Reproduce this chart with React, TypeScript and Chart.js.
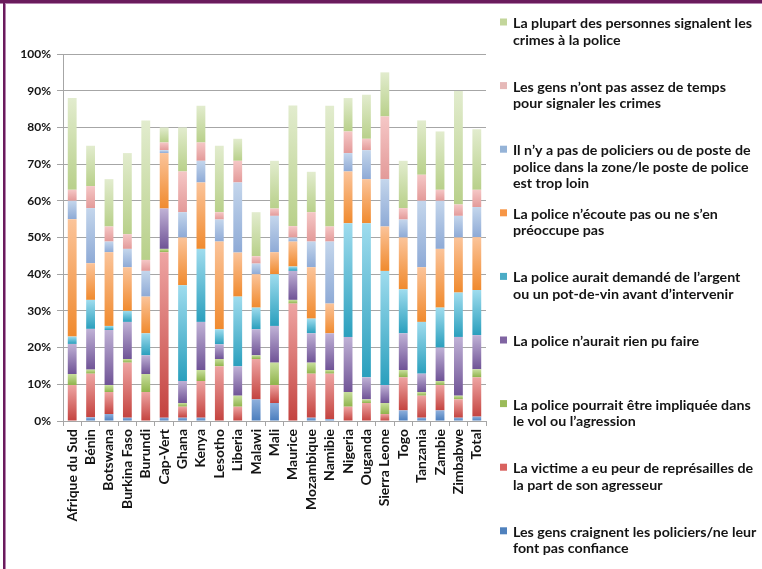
import React, { useEffect, useRef } from "react";
import { Chart, registerables } from "chart.js";

Chart.register(...registerables);

const categories = [
  "Afrique du Sud", "Bénin", "Botswana", "Burkina Faso", "Burundi", "Cap-Vert",
  "Ghana", "Kenya", "Lesotho", "Liberia", "Malawi", "Mali", "Maurice",
  "Mozambique", "Namibie", "Nigeria", "Ouganda", "Sierra Leone", "Togo",
  "Tanzania", "Zambie", "Zimbabwe", "Total",
];

// bottom to top
const fearPolice = [0, 1, 1.9, 0.9, 0, 0.9, 0.9, 0.9, 0, 0, 5.9, 4.9, 0, 0.9, 0.5, 0, 0, 0, 2.9, 0.9, 2.9, 0.9, 1.2];
const fearReprisal = [9.8, 11.9, 6, 15, 7.9, 45.1, 3, 10, 14.9, 3.9, 11, 4.9, 32, 12, 12.4, 3.9, 4.9, 1.9, 9, 6, 6.9, 5, 10.7];
const policeInvolved = [3, 1.1, 1.9, 1, 4.9, 0.9, 1, 3, 2, 3, 1, 6.1, 1, 3, 1, 4, 1, 3, 2, 1, 1.1, 1, 2.2];
const nothingToDo = [8.2, 11.1, 15, 10.1, 5.1, 11, 6, 13.1, 4, 8, 7.1, 10, 7.9, 8, 10, 15, 6, 4.9, 10, 5, 9.1, 16, 9.3];
const bribe = [2, 7.9, 1.1, 3, 6, 0, 26.1, 19.9, 4.1, 19, 5.9, 14.1, 1.2, 4, 0, 31, 42, 31.1, 12, 14.1, 10.9, 12.1, 12.3];
const notListen = [32, 10, 20.1, 11.9, 10, 15.1, 13, 18.1, 23.9, 12, 9.1, 6, 6.8, 14, 8.1, 14.1, 12, 12.1, 14.1, 14.9, 16, 15, 14.4];
const noPolice = [5, 15, 2.9, 5, 7, 0.8, 6.9, 5.9, 6, 19.1, 2.9, 9.9, 1.1, 7, 16.9, 5, 7.9, 12.9, 4.9, 18.1, 13.1, 5.9, 8.2];
const noTime = [3, 6, 4.1, 4, 3, 2.1, 11.1, 5, 2, 5.9, 2, 2, 3.1, 8, 4.1, 5.9, 3.1, 17.1, 3.1, 7.1, 3, 3.1, 4.7];
const mostReport = [25, 11, 12.9, 22.1, 38, 4.1, 12, 10, 18.1, 6, 12, 13, 32.9, 11, 32.9, 9.1, 12, 12, 12.9, 14.8, 15.9, 30.9, 16.5];

const seriesValues = [fearPolice, fearReprisal, policeInvolved, nothingToDo, bribe, notListen, noPolice, noTime, mostReport];

const seriesLabelLines = [
  ["Les gens craignent les policiers/ne leur", "font pas confiance"],
  ["La victime a eu peur de représailles de", "la part de son agresseur"],
  ["La police pourrait être impliquée dans", "le vol ou l’agression"],
  ["La police n’aurait rien pu faire"],
  ["La police aurait demandé de l’argent", "ou un pot-de-vin avant d’intervenir"],
  ["La police n’écoute pas ou ne s’en", "préoccupe pas"],
  ["Il n’y a pas de policiers ou de poste de", "police dans la zone/le poste de police", "est trop loin"],
  ["Les gens n’ont pas assez de temps", "pour signaler les crimes"],
  ["La plupart des personnes signalent les", "crimes à la police"],
];

// [light top, dark bottom, legend swatch]
const seriesColors = [
  ["#8eb0dc", "#4a7dbd", "#4f81bd"],
  ["#eea5a3", "#c4433f", "#d9625f"],
  ["#c9df9e", "#8fb34b", "#9bbb59"],
  ["#c0b2d6", "#6f5396", "#8064a2"],
  ["#9fdcee", "#2a9fbd", "#4bacc6"],
  ["#fbc49a", "#f08a2e", "#f79646"],
  ["#c4d6ec", "#8eaad6", "#95b3d7"],
  ["#f5c7c6", "#e39a99", "#e6b9b8"],
  ["#e2ecce", "#b8d08a", "#c3d69b"],
];

const FONT = "Lato, 'Open Sans', sans-serif";

const legendPlugin = {
  id: "sideLegend",
  afterDraw(chart: any) {
    const ctx = chart.ctx;
    ctx.save();
    ctx.font = `bold 14px ${FONT}`;
    ctx.fillStyle = "#141414";
    ctx.textBaseline = "alphabetic";
    ctx.textAlign = "left";
    const ref = ctx.measureText(seriesLabelLines[8][0]).width;
    const sx = ref > 0 ? 239 / ref : 1;
    for (let j = 0; j < 9; j++) {
      const ds = 8 - j;
      const baseY = 28 + 63.6 * j;
      ctx.fillStyle = seriesColors[ds][2];
      ctx.fillRect(500, baseY - 9.5, 7, 7);
      ctx.fillStyle = "#141414";
      seriesLabelLines[ds].forEach((line, k) => {
        ctx.save();
        ctx.translate(513, baseY + 16.6 * k);
        ctx.scale(sx, 1);
        ctx.fillText(line, 0, 0);
        ctx.restore();
      });
    }
    ctx.restore();
  },
};

export default function App() {
  const canvasRef = useRef<HTMLCanvasElement | null>(null);

  useEffect(() => {
    const canvas = canvasRef.current;
    if (!canvas) return;

    const makeBg = (di: number) => (c: any) => {
      const [light, dark] = seriesColors[di];
      const chart = c.chart;
      const ys = chart.scales && chart.scales.y;
      if (c.type !== "data" || !ys || !chart.chartArea) return dark;
      const i = c.dataIndex;
      let start = 0;
      for (let k = 0; k < di; k++) start += seriesValues[k][i];
      const end = start + seriesValues[di][i];
      const y0 = ys.getPixelForValue(start);
      const y1 = ys.getPixelForValue(end);
      if (!isFinite(y0) || !isFinite(y1) || Math.abs(y0 - y1) < 0.5) return dark;
      const g = chart.ctx.createLinearGradient(0, y1, 0, y0);
      g.addColorStop(0, light);
      g.addColorStop(1, dark);
      return g;
    };

    const chart = new Chart(canvas, {
      type: "bar",
      data: {
        labels: categories,
        datasets: seriesValues.map((vals, di) => ({
          label: seriesLabelLines[di].join(" "),
          data: vals,
          backgroundColor: makeBg(di),
          borderWidth: 0,
          barPercentage: 0.48,
          categoryPercentage: 1,
        })),
      },
      options: {
        animation: false,
        responsive: false,
        devicePixelRatio: 1,
        layout: { padding: { top: 54, right: 276, left: 0, bottom: 0 } },
        plugins: {
          legend: { display: false },
          tooltip: { enabled: false },
        },
        scales: {
          x: {
            stacked: true,
            grid: {
              display: true,
              drawOnChartArea: false,
              drawTicks: true,
              tickLength: 5,
              color: "#a6a6a6",
              offset: true,
            },
            border: { color: "#a6a6a6" },
            ticks: {
              autoSkip: false,
              maxRotation: 90,
              minRotation: 90,
              padding: 3,
              color: "#141414",
              font: { family: FONT, weight: "bold", size: 14 },
            },
            afterFit: (s: any) => {
              s.height = 569 - 421;
            },
          },
          y: {
            stacked: true,
            min: 0,
            max: 100,
            ticks: {
              stepSize: 10,
              padding: 6,
              color: "#141414",
              font: { family: FONT, weight: "bold", size: 12 },
              callback: (v: any) => `${v}%`,
            },
            grid: { color: "#a6a6a6", tickLength: 6 },
            border: { color: "#a6a6a6" },
            afterFit: (s: any) => {
              s.width = 63;
            },
          },
        },
      },
      plugins: [legendPlugin],
    });

    if ((document as any).fonts && (document as any).fonts.load) {
      (document as any).fonts.load(`bold 14px Lato`).then(() => {
        try { chart.update(); } catch (e) {}
      });
    }

    return () => chart.destroy();
  }, []);

  return (
    <div style={{ position: "absolute", left: 0, top: 0, width: 762, height: 569, background: "#ffffff", overflow: "hidden" }}>
      <canvas ref={canvasRef} width={762} height={569} style={{ position: "absolute", left: 0, top: 0, width: 762, height: 569 }} />
      <div style={{ position: "absolute", left: 0, top: 0, width: 762, height: 3, background: "#6a1b5c" }} />
      <div style={{ position: "absolute", left: 0, top: 3, width: 762, height: 1, background: "#b583b0" }} />
      <div style={{ position: "absolute", left: 3, top: 0, width: 2, height: 569, background: "#6a1b5c" }} />
      <div style={{ position: "absolute", left: 5, top: 4, width: 1, height: 565, background: "#b583b0" }} />
    </div>
  );
}
